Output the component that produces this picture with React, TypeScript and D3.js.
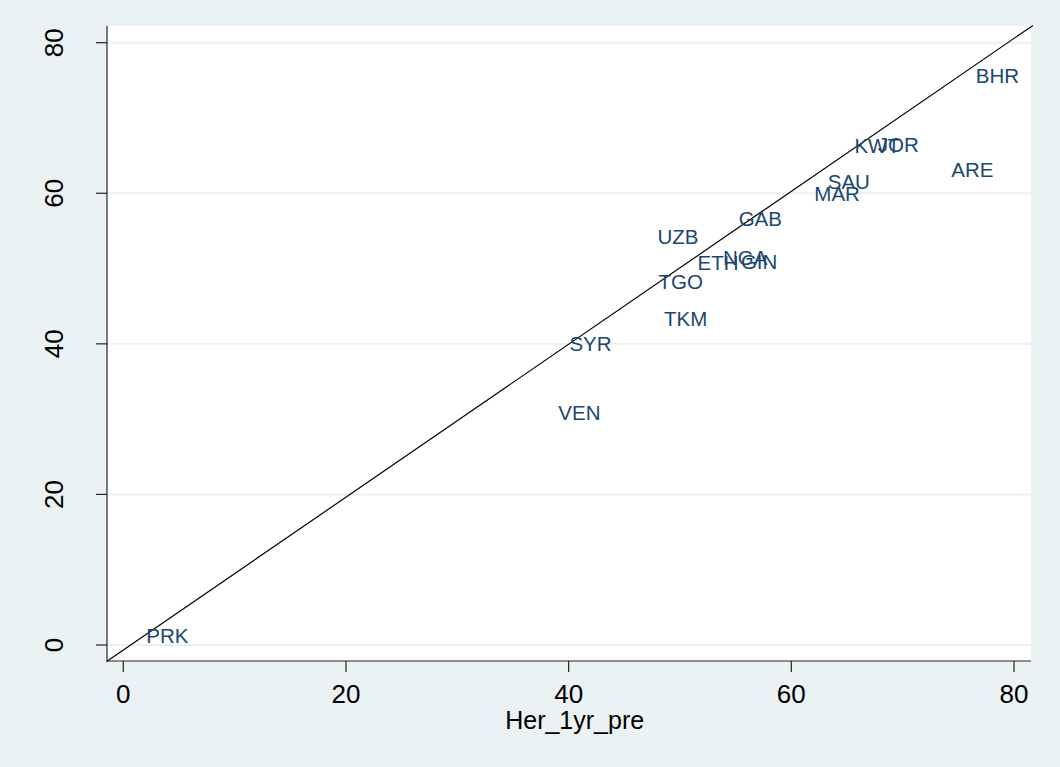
import { useEffect, useRef } from 'react'
import * as d3 from 'd3'

// country codes with (Her_1yr_pre, y)
const codes = ['BHR', 'KWT', 'JOR', 'ARE', 'SAU', 'MAR', 'GAB', 'UZB', 'NGA', 'ETH', 'GIN', 'TGO', 'TKM', 'SYR', 'VEN', 'PRK']
const xVals = [76.3, 65.4, 67.5, 74.1, 63.0, 61.8, 55.0, 47.7, 53.6, 51.3, 55.2, 47.8, 48.3, 39.8, 38.8, 1.8]
const yVals = [75.6, 66.3, 66.4, 63.2, 61.6, 59.9, 56.6, 54.3, 51.5, 50.8, 50.9, 48.2, 43.3, 40.0, 30.9, 1.2]
const xTicks = [0, 20, 40, 60, 80]
const yTicks = [0, 20, 40, 60, 80]
// reference line, end points in data units
const refLine: [number, number][] = [[-1.5, -2.2], [81.7, 82.3]]

const W = 1060
const H = 767
const bg = '#eaf2f3'
const navy = '#1a476f'
const font = '"Liberation Sans", Arial, sans-serif'

export default function App() {
  const ref = useRef<SVGSVGElement>(null)

  useEffect(() => {
    const svg = d3.select(ref.current)
    svg.selectAll('*').remove()

    const plot = { left: 107, right: 1031, top: 26, bottom: 661 }
    const x = d3.scaleLinear().domain([0, 80]).range([123.3, 1014])
    const y = d3.scaleLinear().domain([0, 80]).range([645, 42.7])

    svg.append('rect').attr('width', W).attr('height', H).attr('fill', bg)
    svg.append('rect')
      .attr('x', plot.left).attr('y', plot.top)
      .attr('width', plot.right - plot.left).attr('height', plot.bottom - plot.top)
      .attr('fill', '#fff')

    // gridlines
    svg.append('g').selectAll('line').data(yTicks).join('line')
      .attr('x1', plot.left).attr('x2', plot.right)
      .attr('y1', d => y(d)).attr('y2', d => y(d))
      .attr('stroke', bg).attr('stroke-width', 2)

    // axes
    svg.append('line').attr('x1', plot.left).attr('x2', plot.left)
      .attr('y1', plot.top).attr('y2', plot.bottom + 0.5)
      .attr('stroke', '#222').attr('stroke-width', 1.2)
    svg.append('line').attr('x1', plot.left).attr('x2', plot.right)
      .attr('y1', plot.bottom).attr('y2', plot.bottom)
      .attr('stroke', '#222').attr('stroke-width', 1.2)

    const yt = svg.append('g').selectAll('g').data(yTicks).join('g')
    yt.append('line').attr('x1', plot.left - 11).attr('x2', plot.left)
      .attr('y1', d => y(d)).attr('y2', d => y(d))
      .attr('stroke', '#222').attr('stroke-width', 1.2)
    yt.append('text')
      .attr('transform', d => `translate(63,${y(d)}) rotate(-90)`)
      .attr('text-anchor', 'middle')
      .attr('font-family', font).attr('font-size', 26).attr('fill', '#000')
      .text(d => d)

    const xt = svg.append('g').selectAll('g').data(xTicks).join('g')
    xt.append('line').attr('x1', d => x(d)).attr('x2', d => x(d))
      .attr('y1', plot.bottom).attr('y2', plot.bottom + 11)
      .attr('stroke', '#222').attr('stroke-width', 1.2)
    xt.append('text')
      .attr('x', d => x(d)).attr('y', 703)
      .attr('text-anchor', 'middle')
      .attr('font-family', font).attr('font-size', 26).attr('fill', '#000')
      .text(d => d)

    svg.append('text').attr('x', x(40) + 6).attr('y', 729)
      .attr('text-anchor', 'middle')
      .attr('font-family', font).attr('font-size', 25).attr('fill', '#000')
      .text('Her_1yr_pre')

    // 45 degree line
    const line = d3.line<[number, number]>().x(d => x(d[0])).y(d => y(d[1]))
    svg.append('path').datum(refLine).attr('d', line)
      .attr('fill', 'none').attr('stroke', '#000').attr('stroke-width', 1.2)

    // marker labels, position 3 o'clock
    svg.append('g').selectAll('text').data(codes).join('text')
      .attr('x', (_, i) => x(xVals[i]) + 3)
      .attr('y', (_, i) => y(yVals[i]))
      .attr('dy', '0.36em')
      .attr('font-family', font).attr('font-size', 20.5).attr('fill', navy)
      .text(d => d)
  }, [])

  return (
    <svg ref={ref} width={W} height={H}
      style={{ position: 'absolute', left: 0, top: 0, display: 'block' }} />
  )
}
